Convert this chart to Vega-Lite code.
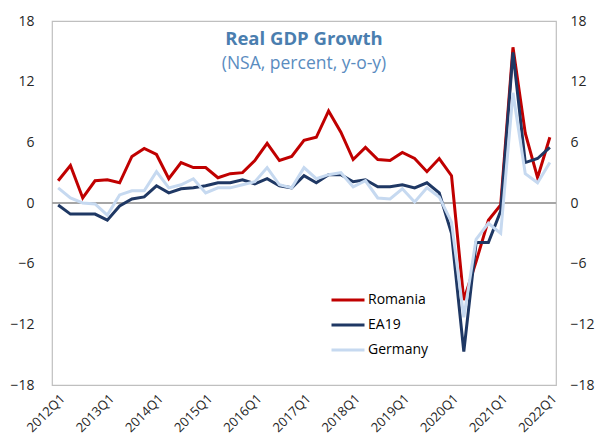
{
  "$schema": "https://vega.github.io/schema/vega-lite/v6.json",
  "width": 504,
  "height": 364,
  "autosize": "none",
  "padding": {"left": 52, "top": 21, "right": 44, "bottom": 62},
  "background": "white",
  "config": {
    "font": "Open Sans",
    "view": {"stroke": "#BFBFBF", "strokeWidth": 1.2}
  },
  "title": {
    "text": "Real GDP Growth",
    "subtitle": "(NSA, percent, y-o-y)",
    "anchor": "middle",
    "offset": -58,
    "fontSize": 18.5,
    "fontWeight": "bold",
    "color": "#4A7EAF",
    "subtitleFontSize": 17.5,
    "subtitleColor": "#5A8CBF",
    "subtitlePadding": 6
  },
  "data": {
    "values": [
      {"q": "2012Q1", "Romania": 2.2, "EA19": -0.2, "Germany": 1.5},
      {"q": "2012Q2", "Romania": 3.7, "EA19": -1.1, "Germany": 0.5},
      {"q": "2012Q3", "Romania": 0.5, "EA19": -1.1, "Germany": 0.0},
      {"q": "2012Q4", "Romania": 2.2, "EA19": -1.1, "Germany": -0.1},
      {"q": "2013Q1", "Romania": 2.3, "EA19": -1.7, "Germany": -1.2},
      {"q": "2013Q2", "Romania": 2.0, "EA19": -0.3, "Germany": 0.8},
      {"q": "2013Q3", "Romania": 4.6, "EA19": 0.4, "Germany": 1.2},
      {"q": "2013Q4", "Romania": 5.4, "EA19": 0.6, "Germany": 1.2},
      {"q": "2014Q1", "Romania": 4.8, "EA19": 1.7, "Germany": 3.1},
      {"q": "2014Q2", "Romania": 2.4, "EA19": 1.0, "Germany": 1.5},
      {"q": "2014Q3", "Romania": 4.0, "EA19": 1.4, "Germany": 1.8},
      {"q": "2014Q4", "Romania": 3.5, "EA19": 1.5, "Germany": 2.4},
      {"q": "2015Q1", "Romania": 3.5, "EA19": 1.7, "Germany": 1.0},
      {"q": "2015Q2", "Romania": 2.5, "EA19": 2.0, "Germany": 1.5},
      {"q": "2015Q3", "Romania": 2.9, "EA19": 2.0, "Germany": 1.5},
      {"q": "2015Q4", "Romania": 3.0, "EA19": 2.3, "Germany": 1.8},
      {"q": "2016Q1", "Romania": 4.2, "EA19": 1.9, "Germany": 2.1},
      {"q": "2016Q2", "Romania": 5.9, "EA19": 2.4, "Germany": 3.5},
      {"q": "2016Q3", "Romania": 4.2, "EA19": 1.7, "Germany": 1.8},
      {"q": "2016Q4", "Romania": 4.6, "EA19": 1.5, "Germany": 1.5},
      {"q": "2017Q1", "Romania": 6.2, "EA19": 2.7, "Germany": 3.5},
      {"q": "2017Q2", "Romania": 6.5, "EA19": 2.0, "Germany": 2.4},
      {"q": "2017Q3", "Romania": 9.1, "EA19": 2.8, "Germany": 2.8},
      {"q": "2017Q4", "Romania": 7.0, "EA19": 2.8, "Germany": 3.0},
      {"q": "2018Q1", "Romania": 4.3, "EA19": 2.1, "Germany": 1.6},
      {"q": "2018Q2", "Romania": 5.5, "EA19": 2.3, "Germany": 2.2},
      {"q": "2018Q3", "Romania": 4.3, "EA19": 1.6, "Germany": 0.5},
      {"q": "2018Q4", "Romania": 4.2, "EA19": 1.6, "Germany": 0.4},
      {"q": "2019Q1", "Romania": 5.0, "EA19": 1.8, "Germany": 1.4},
      {"q": "2019Q2", "Romania": 4.4, "EA19": 1.5, "Germany": 0.1},
      {"q": "2019Q3", "Romania": 3.1, "EA19": 2.0, "Germany": 1.5},
      {"q": "2019Q4", "Romania": 4.4, "EA19": 1.0, "Germany": 0.6},
      {"q": "2020Q1", "Romania": 2.7, "EA19": -3.0, "Germany": -1.9},
      {"q": "2020Q2", "Romania": -9.6, "EA19": -14.7, "Germany": -11.3},
      {"q": "2020Q3", "Romania": -5.8, "EA19": -3.9, "Germany": -3.6},
      {"q": "2020Q4", "Romania": -1.7, "EA19": -3.9, "Germany": -2.0},
      {"q": "2021Q1", "Romania": -0.2, "EA19": -0.8, "Germany": -3.0},
      {"q": "2021Q2", "Romania": 15.4, "EA19": 14.9, "Germany": 10.9},
      {"q": "2021Q3", "Romania": 6.9, "EA19": 4.0, "Germany": 2.9},
      {"q": "2021Q4", "Romania": 2.5, "EA19": 4.4, "Germany": 2.0},
      {"q": "2022Q1", "Romania": 6.5, "EA19": 5.5, "Germany": 4.0}
    ]
  },
  "layer": [
    {
      "mark": {"type": "rule", "color": "#A6A6A6", "strokeWidth": 1.2},
      "encoding": {
        "y": {
          "datum": 0,
          "type": "quantitative",
          "scale": {"domain": [-18, 18], "nice": false, "zero": false},
          "axis": {
            "orient": "right",
            "title": null,
            "values": [-18, -12, -6, 0, 6, 12, 18],
            "grid": false,
            "ticks": false,
            "domain": false,
            "labelFontSize": 14,
            "labelColor": "#262626",
            "labelPadding": 14,
            "labelAlign": "left"
          }
        }
      }
    },
    {
      "transform": [
        {"fold": ["Romania", "EA19", "Germany"], "as": ["series", "value"]}
      ],
      "mark": {"type": "line", "strokeWidth": 3, "strokeJoin": "miter"},
      "encoding": {
        "x": {
          "field": "q",
          "type": "ordinal",
          "sort": null,
          "axis": {
            "title": null,
            "values": ["2012Q1", "2013Q1", "2014Q1", "2015Q1", "2016Q1", "2017Q1", "2018Q1", "2019Q1", "2020Q1", "2021Q1", "2022Q1"],
            "labelAngle": -45,
            "labelAlign": "right",
            "labelBaseline": "top",
            "labelFontSize": 13,
            "labelColor": "#262626",
            "labelPadding": 7,
            "ticks": false,
            "domain": false,
            "grid": false
          }
        },
        "y": {
          "field": "value",
          "type": "quantitative",
          "scale": {"domain": [-18, 18], "nice": false, "zero": false},
          "axis": {
            "orient": "left",
            "title": null,
            "values": [-18, -12, -6, 0, 6, 12, 18],
            "grid": false,
            "ticks": false,
            "domain": false,
            "labelFontSize": 14,
            "labelColor": "#262626",
            "labelPadding": 18
          }
        },
        "color": {
          "field": "series",
          "type": "nominal",
          "scale": {"domain": ["Romania", "EA19", "Germany"], "range": ["#C00000", "#1F3864", "#C6D9F0"]},
          "legend": {
            "title": null,
            "orient": "none",
            "legendX": 278,
            "legendY": 268,
            "symbolType": "stroke",
            "symbolSize": 1089,
            "symbolStrokeWidth": 3,
            "clipHeight": 22,
            "rowPadding": 3,
            "labelFontSize": 14,
            "labelColor": "#000000",
            "labelOffset": 2
          }
        }
      }
    }
  ],
  "resolve": {"axis": {"y": "independent"}}
}
